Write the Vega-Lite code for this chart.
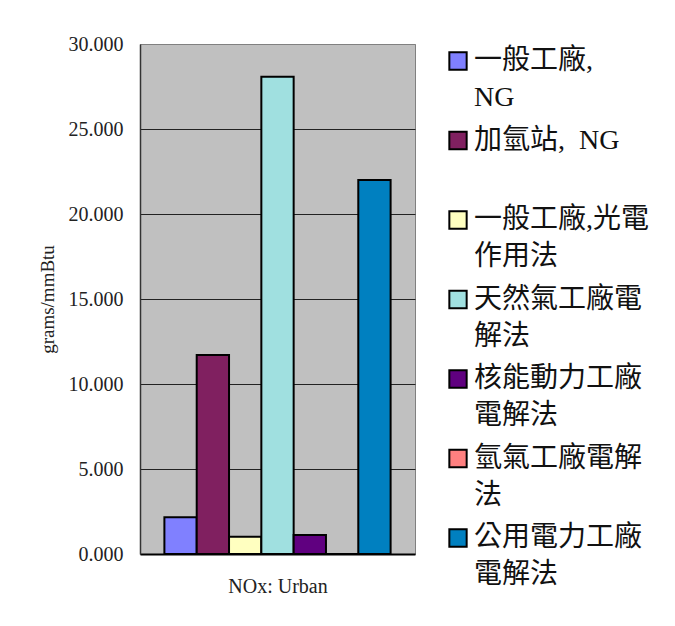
{
  "$schema": "https://vega.github.io/schema/vega-lite/v6.json",
  "autosize": {"type": "none"},
  "padding": {"left": 140, "top": 44, "right": 260, "bottom": 72},
  "width": 275,
  "height": 510,
  "background": "white",
  "config": {
    "font": "Liberation Serif, Noto Sans CJK TC",
    "view": {"fill": "#C0C0C0", "stroke": "#808080", "strokeWidth": 1}
  },
  "data": {
    "values": [
      {"series": "\u00a0一般工廠,\nNG", "value": 2.16},
      {"series": "加氫站,\u00a0 NG\n", "value": 11.7},
      {"series": "一般工廠,光電\n作用法", "value": 1.02},
      {"series": "天然氣工廠電\n解法", "value": 28.08},
      {"series": "\u00a0核能動力工廠\n電解法", "value": 1.12},
      {"series": "\u00a0氫氣工廠電解\n法", "value": 0},
      {"series": "公用電力工廠\n電解法", "value": 22.0}
    ]
  },
  "mark": {"type": "bar", "stroke": "black", "strokeWidth": 2},
  "encoding": {
    "x": {
      "field": "series",
      "type": "nominal",
      "sort": null,
      "scale": {"paddingInner": 0, "paddingOuter": 0.755},
      "axis": {
        "title": "NOx: Urban",
        "labels": false,
        "ticks": false,
        "domainColor": "black",
        "domainWidth": 2,
        "titleFontSize": 20,
        "titleFontWeight": "normal",
        "titleColor": "#222",
        "titlePadding": 22
      }
    },
    "y": {
      "field": "value",
      "type": "quantitative",
      "scale": {"domain": [0, 30], "nice": false},
      "axis": {
        "title": "grams/mmBtu",
        "values": [0, 5, 10, 15, 20, 25, 30],
        "format": ".3f",
        "labelFontSize": 20,
        "labelColor": "#222",
        "labelPadding": 17,
        "ticks": false,
        "domainColor": "#333",
        "domainWidth": 1.5,
        "grid": true,
        "gridColor": {"condition": {"test": "datum.value == 30 || datum.value == 0", "value": "#808080"}, "value": "#222"},
        "gridOpacity": 1,
        "gridWidth": 1,
        "titleFontSize": 19,
        "titleFontWeight": "normal",
        "titleColor": "#222",
        "titlePadding": 11
      }
    },
    "color": {
      "field": "series",
      "type": "nominal",
      "sort": null,
      "scale": {
        "range": ["#8080FF", "#802060", "#FFFFC0", "#A0E0E0", "#600080", "#FF8080", "#0080C0"]
      },
      "legend": {
        "title": null,
        "orient": "none",
        "legendX": 304,
        "legendY": 3,
        "labelExpr": "split(datum.label, '\\n')",
        "labelFontSize": 28,
        "labelLimit": 400,
        "labelColor": "#111",
        "labelOffset": 2,
        "labelBaseline": "middle",
        "symbolType": "square",
        "symbolSize": 300,
        "symbolStrokeColor": "black",
        "symbolStrokeWidth": 2,
        "symbolOpacity": 1,
        "rowPadding": 14.5,
        "encode": {"labels": {"update": {"lineHeight": {"value": 37}}}}
      }
    }
  }
}
